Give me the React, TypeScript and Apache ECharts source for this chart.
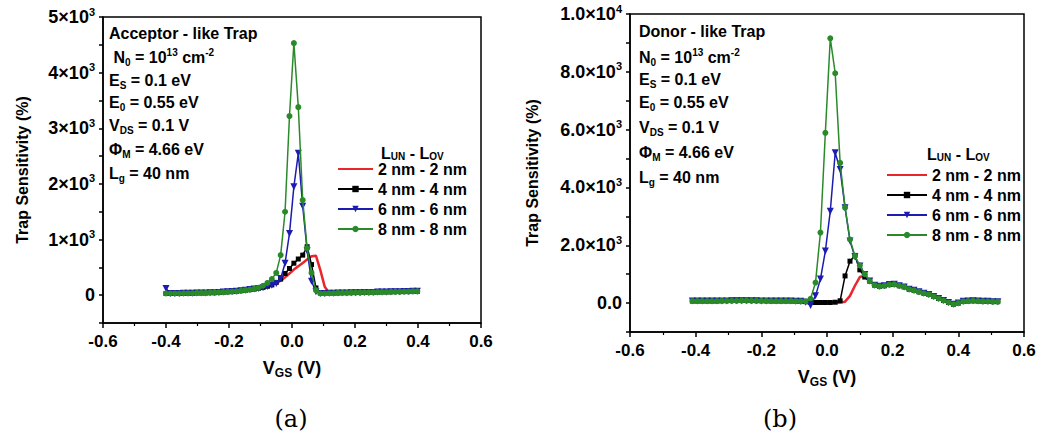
import React, { useEffect, useRef } from "react";
import * as echarts from "echarts";

// ---------- data ----------
const SERIES_NAMES = ["2 nm - 2 nm", "4 nm - 4 nm", "6 nm - 6 nm", "8 nm - 8 nm"];

// Panel (a): Acceptor-like trap
const VGS_A = [
  -0.400, -0.386, -0.372, -0.358, -0.344, -0.330, -0.316, -0.302, -0.288, -0.274,
  -0.260, -0.246, -0.232, -0.218, -0.204, -0.190, -0.176, -0.162, -0.148, -0.134,
  -0.120, -0.106, -0.092, -0.078, -0.064, -0.050, -0.036, -0.022, -0.008, 0.006,
  0.020, 0.034, 0.048, 0.062, 0.076, 0.090, 0.104, 0.118, 0.132, 0.146,
  0.160, 0.174, 0.188, 0.202, 0.216, 0.230, 0.244, 0.258, 0.272, 0.286,
  0.300, 0.314, 0.328, 0.342, 0.356, 0.370, 0.384, 0.398,
];
const A_2NM = [
  30, 30, 30, 30, 35, 35, 35, 40, 40, 40,
  45, 45, 50, 55, 60, 65, 70, 80, 90, 100,
  110, 125, 140, 160, 185, 215, 260, 320, 390, 460,
  520, 580, 640, 700, 710, 450, 150, 40, 40, 40,
  45, 45, 45, 50, 50, 50, 55, 55, 55, 60,
  60, 60, 65, 65, 65, 70, 70, 70,
];
const A_4NM = [
  30, 30, 30, 30, 35, 35, 35, 40, 40, 40,
  45, 45, 50, 55, 60, 65, 70, 80, 90, 100,
  110, 125, 140, 160, 185, 230, 290, 390, 480, 575,
  650, 720, 870, 550, 130, 40, 40, 40, 40, 40,
  45, 45, 45, 50, 50, 50, 55, 55, 55, 60,
  60, 60, 65, 65, 65, 70, 70, 70,
];
const A_6NM = [
  120, 30, 30, 30, 35, 35, 35, 40, 40, 40,
  45, 45, 50, 55, 60, 65, 70, 80, 90, 100,
  110, 120, 135, 155, 180, 210, 300, 575, 1110, 1950,
  2550, 1600, 800, 250, 60, 30, 30, 35, 35, 40,
  40, 40, 45, 45, 45, 50, 50, 50, 55, 55,
  55, 60, 60, 60, 65, 65, 70, 70,
];
const A_8NM = [
  30, 30, 30, 30, 35, 35, 35, 40, 40, 40,
  45, 45, 50, 55, 60, 65, 70, 80, 90, 100,
  115, 135, 170, 220, 290, 400, 720, 1500, 3220, 4530,
  3380, 1710, 845, 400, 90, 30, 30, 35, 35, 40,
  40, 40, 45, 45, 45, 50, 50, 50, 55, 55,
  55, 60, 60, 60, 65, 65, 70, 70,
];

// Panel (b): Donor-like trap
const VGS_B = [
  -0.410, -0.395, -0.380, -0.365, -0.350, -0.335, -0.320, -0.305, -0.290, -0.275,
  -0.260, -0.245, -0.230, -0.215, -0.200, -0.185, -0.170, -0.155, -0.140, -0.125,
  -0.110, -0.095, -0.080, -0.065, -0.050, -0.035, -0.020, -0.005, 0.010, 0.025,
  0.040, 0.055, 0.070, 0.085, 0.100, 0.115, 0.130, 0.145, 0.160, 0.175,
  0.190, 0.205, 0.220, 0.235, 0.250, 0.265, 0.280, 0.295, 0.310, 0.325,
  0.340, 0.355, 0.370, 0.385, 0.400, 0.415, 0.430, 0.445, 0.460, 0.475,
  0.490, 0.505, 0.520,
];
const B_2NM = [
  70, 70, 70, 70, 70, 70, 75, 75, 80, 80,
  85, 85, 80, 80, 75, 75, 70, 70, 70, 70,
  70, 65, 60, 50, 40, 30, 20, 20, 20, 20,
  20, 50, 250, 600, 900, 950, 760, 620, 580, 600,
  640, 650, 600, 560, 480, 440, 390, 340, 300, 230,
  160, 90, 20, -40, 0, 60, 70, 80, 70, 60,
  60, 50, 50,
];
const B_4NM = [
  70, 70, 70, 70, 70, 70, 80, 85, 95, 100,
  100, 95, 90, 85, 80, 75, 70, 70, 70, 70,
  70, 65, 60, 50, 30, 20, 20, 20, 20, 30,
  80, 940, 1450, 1650, 1150, 900, 760, 620, 580, 600,
  640, 650, 600, 560, 480, 440, 390, 340, 300, 230,
  160, 90, 20, -40, 0, 60, 70, 80, 70, 60,
  60, 50, 50,
];
const B_6NM = [
  70, 70, 70, 70, 70, 70, 75, 75, 80, 80,
  85, 85, 80, 80, 75, 75, 70, 70, 70, 70,
  70, 65, 60, 30, -80, 250, 830, 1800, 3180, 5200,
  4620, 3300, 2150, 1600, 1280, 990, 760, 620, 580, 600,
  640, 650, 600, 560, 480, 440, 390, 340, 300, 230,
  160, 90, 20, -40, 0, 60, 70, 80, 70, 60,
  60, 50, 50,
];
const B_8NM = [
  70, 70, 70, 70, 70, 70, 75, 75, 80, 80,
  85, 85, 80, 80, 75, 75, 70, 70, 70, 70,
  70, 65, 60, 60, 150, 710, 2440, 5890, 9160, 7950,
  4850, 3300, 2200, 1630, 1300, 1000, 760, 620, 580, 600,
  640, 650, 600, 560, 480, 440, 390, 340, 300, 230,
  160, 90, 20, -40, 0, 60, 70, 80, 70, 60,
  60, 50, 50,
];

const X_TICKS = [-0.6, -0.4, -0.2, 0.0, 0.2, 0.4, 0.6];

// ---------- styling ----------
const FONT = '"Liberation Sans", Arial, sans-serif';
const COLORS = ["#e8262b", "#000000", "#1c1cb0", "#2a8a2a"];
const SYMBOLS = ["none", "rect", "path://M0,0L10,0L5,10Z", "circle"];
const SYMBOL_SIZES = [0, 5, 7, 6];

const RICH = {
  t: { fontSize: 16, fontWeight: "bold", fontFamily: FONT, lineHeight: 20, color: "#000" },
  sub: { fontSize: 10, fontWeight: "bold", fontFamily: FONT, lineHeight: 10, verticalAlign: "bottom", color: "#000" },
  sup: { fontSize: 10, fontWeight: "bold", fontFamily: FONT, lineHeight: 10, verticalAlign: "top", color: "#000" },
};
const RICH_TITLE = {
  t: { fontSize: 16, fontWeight: "bold", fontFamily: FONT, lineHeight: 16, color: "#000" },
  sub: { fontSize: 10, fontWeight: "bold", fontFamily: FONT, lineHeight: 5, verticalAlign: "bottom", color: "#000" },
};
const AXRICH = {
  n: { fontSize: 18, fontWeight: "bold", fontFamily: FONT, lineHeight: 22, color: "#000" },
  s: { fontSize: 11, fontWeight: "bold", fontFamily: FONT, lineHeight: 11, verticalAlign: "top", color: "#000" },
};
const XNAMERICH = {
  n: { fontSize: 18, fontWeight: "bold", fontFamily: FONT, lineHeight: 22, color: "#000" },
  sub: { fontSize: 12, fontWeight: "bold", fontFamily: FONT, lineHeight: 12, verticalAlign: "bottom", color: "#000" },
};

function zip(xs: number[], ys: number[]) {
  return xs.map((x, i) => [x, ys[i]]);
}

function makeSeries(xs: number[], sets: number[][], axisIdx: number) {
  return sets.map((vals, k) => ({
    name: SERIES_NAMES[k],
    type: "line",
    xAxisIndex: axisIdx,
    yAxisIndex: axisIdx,
    data: zip(xs, vals),
    symbol: SYMBOLS[k],
    symbolSize: SYMBOL_SIZES[k],
    showSymbol: k !== 0,
    color: COLORS[k],
    lineStyle: { color: COLORS[k], width: k === 0 ? 2.5 : 1.5 },
    itemStyle: { color: COLORS[k] },
    z: 2 + k,
  }));
}

function xAxisCfg(gridIndex: number) {
  return {
    type: "value",
    gridIndex,
    min: X_TICKS[0],
    max: X_TICKS[X_TICKS.length - 1],
    interval: 0.2,
    axisLine: { show: true, onZero: false, lineStyle: { color: "#000", width: 1.5 } },
    axisTick: { show: true, inside: false, length: 5, lineStyle: { color: "#000", width: 1.5 } },
    minorTick: { show: true, splitNumber: 2, length: 3, lineStyle: { color: "#000", width: 1.2 } },
    splitLine: { show: false },
    axisLabel: {
      margin: 10,
      color: "#000",
      fontSize: 17,
      fontWeight: "bold",
      fontFamily: FONT,
      formatter: (v: number) => v.toFixed(1),
    },
    name: "{n|V}{sub|GS}{n| (V)}",
    nameLocation: "middle",
    nameGap: 34,
    nameTextStyle: { rich: XNAMERICH },
  };
}

export default function App() {
  const ref = useRef<HTMLDivElement>(null);
  useEffect(() => {
    document.body.style.margin = "0";
    const chart = echarts.init(ref.current!, null, { renderer: "svg" });

    const annLinesA = [
      "{t|Acceptor - like Trap}",
      "{t| N}{sub|0}{t| = 10}{sup|13}{t| cm}{sup|-2}",
      "{t|E}{sub|S}{t| = 0.1 eV}",
      "{t|E}{sub|0}{t| = 0.55 eV}",
      "{t|V}{sub|DS}{t| = 0.1 V}",
      "{t|\u03A6}{sub|M}{t| = 4.66 eV}",
      "{t|L}{sub|g}{t| = 40 nm}",
    ];
    const annLinesB = [
      "{t|Donor - like Trap}",
      "{t|N}{sub|0}{t| = 10}{sup|13}{t| cm}{sup|-2}",
      "{t|E}{sub|S}{t| = 0.1 eV}",
      "{t|E}{sub|0}{t| = 0.55 eV}",
      "{t|V}{sub|DS}{t| = 0.1 V}",
      "{t|\u03A6}{sub|M}{t| = 4.66 eV}",
      "{t|L}{sub|g}{t| = 40 nm}",
    ];
    const ysA = [33, 57, 80, 102, 125, 149, 173];
    const ysB = [31, 57, 79, 102, 127, 152, 177];
    const textEl = (text: string, x: number, y: number, rich: any = RICH) => ({
      type: "text",
      x,
      y,
      style: { text, rich, fill: "#000", verticalAlign: "middle", align: "left" },
    });

    const graphics: any[] = [
      ...annLinesA.map((t, i) => textEl(t, 109, ysA[i])),
      ...annLinesB.map((t, i) => textEl(t, 639, ysB[i])),
      textEl("{t|L}{sub|UN}{t| - L}{sub|OV}", 381, 153, RICH_TITLE),
      textEl("{t|L}{sub|UN}{t| - L}{sub|OV}", 927, 154, RICH_TITLE),
      {
        type: "text",
        x: 291,
        y: 419,
        style: { text: "(a)", fill: "#000", font: '24px "DejaVu Serif", serif', align: "center", verticalAlign: "middle" },
      },
      {
        type: "text",
        x: 780,
        y: 419,
        style: { text: "(b)", fill: "#000", font: '24px "DejaVu Serif", serif', align: "center", verticalAlign: "middle" },
      },
    ];

    const legendData = SERIES_NAMES.map((n, k) =>
      k === 0 ? { name: n, itemStyle: { opacity: 0 } } : { name: n }
    );
    const legendCommon = {
      orient: "vertical",
      padding: 0,
      itemGap: 2,
      itemHeight: 8,
      data: legendData,
      selectedMode: false,
      textStyle: { fontSize: 16, fontWeight: "bold", fontFamily: FONT, color: "#000", lineHeight: 18 },
    };

    const yCommon = {
      type: "value",
      axisLine: { show: true, onZero: false, lineStyle: { color: "#000", width: 1.5 } },
      axisTick: { show: true, length: 4, lineStyle: { color: "#000", width: 1.5 } },
      splitLine: { show: false },
      name: "Trap Sensitivity (%)",
      nameLocation: "middle",
      nameTextStyle: { fontSize: 16, fontWeight: "bold", fontFamily: FONT, color: "#000" },
    };
    const yA = {
      ...yCommon,
      gridIndex: 0,
      min: -500,
      max: 5000,
      interval: 500,
      axisLabel: {
        margin: 8,
        rich: AXRICH,
        formatter: (v: number) => {
          if (v < 0 || v % 1000 !== 0) return "";
          if (v === 0) return "{n|0}";
          return `{n|${v / 1000}\u00D710}{s|3}`;
        },
      },
      nameGap: 73,
    };
    const yB = {
      ...yCommon,
      gridIndex: 1,
      min: -1000,
      max: 10000,
      interval: 1000,
      axisLabel: {
        margin: 8,
        rich: AXRICH,
        formatter: (v: number) => {
          if (v < 0 || v % 2000 !== 0) return "";
          if (v === 0) return "{n|0.0}";
          if (v === 10000) return "{n|1.0\u00D710}{s|4}";
          return `{n|${(v / 1000).toFixed(1)}\u00D710}{s|3}`;
        },
      },
      nameGap: 90,
    };

    chart.setOption({
      animation: false,
      backgroundColor: "#fff",
      textStyle: { fontFamily: FONT },
      grid: [
        { left: 103, top: 17, width: 378, height: 306, show: true, borderColor: "#000", borderWidth: 1.5 },
        { left: 630, top: 14, width: 394, height: 318, show: true, borderColor: "#000", borderWidth: 1.5 },
      ],
      xAxis: [xAxisCfg(0), xAxisCfg(1)],
      yAxis: [yA, yB],
      legend: [
        { ...legendCommon, left: 337, top: 160, itemWidth: 35 },
        { ...legendCommon, left: 886, top: 166, itemWidth: 40 },
      ],
      series: [
        ...makeSeries(VGS_A, [A_2NM, A_4NM, A_6NM, A_8NM], 0),
        ...makeSeries(VGS_B, [B_2NM, B_4NM, B_6NM, B_8NM], 1),
      ],
      graphic: graphics,
    });
    return () => chart.dispose();
  }, []);
  return <div ref={ref} style={{ width: 1046, height: 436 }} />;
}
